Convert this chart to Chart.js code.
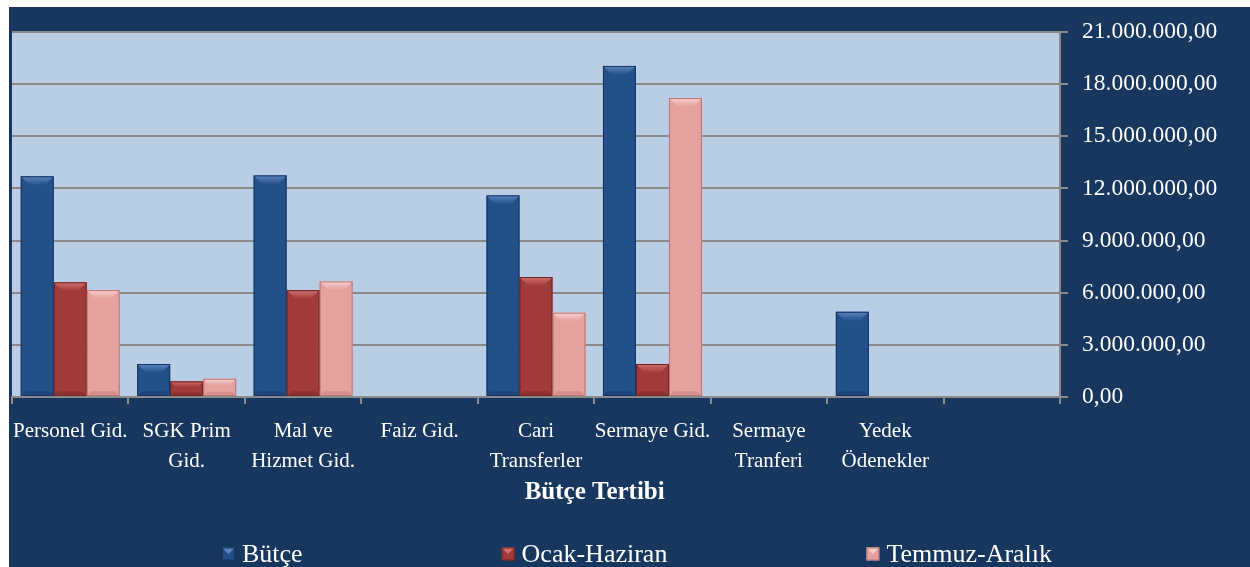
<!DOCTYPE html>
<html lang="tr">
<head>
<meta charset="utf-8">
<title>Bütçe Tertibi</title>
<script src="https://cdn.jsdelivr.net/npm/chart.js@4.4.1/dist/chart.umd.min.js"></script>
<style>
  html, body { margin: 0; padding: 0; background: #fff; }
  #kutu { position: absolute; left: 9px; top: 7px; width: 1241px; height: 560px; background: #17375e; overflow: hidden; }
</style>
</head>
<body>
<div id="kutu"><canvas id="grafik" width="1241" height="560"></canvas></div>
<script>
// Kategoriler (son sütun boş)
const kategoriler = [
  "Personel Gid.", ["SGK Prim", "Gid."], ["Mal ve", "Hizmet Gid."], "Faiz Gid.",
  ["Cari", "Transferler"], "Sermaye Gid.", ["Sermaye", "Tranferi"], ["Yedek", "Ödenekler"], ""
];
const seriAdlari = ["Bütçe", "Ocak-Haziran", "Temmuz-Aralık"];
const butce = [12700000, 1900000, 12750000, 0, 11600000, 19050000, 0, 4900000, 0];
const ocakHaziran = [6600000, 900000, 6150000, 0, 6900000, 1900000, 0, 0, 0];
const temmuzAralik = [6150000, 1050000, 6650000, 0, 4850000, 17200000, 0, 0, 0];
const yEksenUst = 21000000;
const yEksenAdim = 3000000;
const eksenBasligi = "Bütçe Tertibi";

// Renkler: ana, üst kabartma, kenar
const renkler = [
  { ana: "#24508a", ust: "#5b86c0", kenar: "#153460" },
  { ana: "#a03b3a", ust: "#d0706c", kenar: "#6e2221" },
  { ana: "#e5a09f", ust: "#f7cfcd", kenar: "#b87574" }
];

function paraBicimi(v) {
  const tam = Math.round(v).toString().replace(/\B(?=(\d{3})+(?!\d))/g, ".");
  return tam + ",00";
}

// Çizim alanı zemini
const cizimAlani = {
  id: "cizimAlani",
  beforeDraw(chart) {
    const { ctx, chartArea: a } = chart;
    ctx.save();
    ctx.fillStyle = "#b9cde5";
    ctx.fillRect(a.left, a.top, a.right - a.left, a.bottom - a.top);
    ctx.restore();
  }
};

// Çubuklara kabartma görünümü
const kabartma = {
  id: "kabartma",
  afterDatasetsDraw(chart) {
    const ctx = chart.ctx;
    chart.data.datasets.forEach((ds, i) => {
      const r = renkler[i];
      chart.getDatasetMeta(i).data.forEach(bar => {
        const { x, y, base, width } = bar.getProps(["x", "y", "base", "width"], true);
        const h = base - y;
        if (h < 1) return;
        const sol = x - width / 2, sag = x + width / 2;
        const d = Math.min(9, h / 2.5);
        ctx.save();
        // üst eğim
        const g = ctx.createLinearGradient(0, y, 0, y + d);
        g.addColorStop(0, r.ust);
        g.addColorStop(1, r.ana);
        ctx.fillStyle = g;
        ctx.beginPath();
        ctx.moveTo(sol, y); ctx.lineTo(sag, y);
        ctx.lineTo(sag - d, y + d); ctx.lineTo(sol + d, y + d);
        ctx.closePath(); ctx.fill();
        // alt gölge
        ctx.globalAlpha = 0.35;
        ctx.fillStyle = r.kenar;
        const da = Math.min(5, h / 4);
        ctx.beginPath();
        ctx.moveTo(sol, base); ctx.lineTo(sag, base);
        ctx.lineTo(sag - da, base - da); ctx.lineTo(sol + da, base - da);
        ctx.closePath(); ctx.fill();
        ctx.globalAlpha = 1;
        // kenar çizgisi
        ctx.strokeStyle = r.kenar;
        ctx.lineWidth = 1;
        ctx.strokeRect(sol + 0.5, y + 0.5, width - 1, h - 1);
        ctx.restore();
      });
    });
  }
};

// Eksen başlığı ve gösterge
const baslikVeGosterge = {
  id: "baslikVeGosterge",
  afterDraw(chart) {
    const { ctx, chartArea: a } = chart;
    ctx.save();
    ctx.fillStyle = "#ffffff";
    ctx.textBaseline = "middle";
    ctx.textAlign = "center";
    ctx.font = "bold 25px 'Liberation Serif'";
    ctx.fillText(eksenBasligi, a.left + (a.right - a.left) * 0.556, 486);

    // gösterge
    ctx.font = "26px 'Liberation Serif'";
    ctx.textAlign = "left";
    const kutu = 13, bosluk = 7, ara = 199;
    const genislikler = seriAdlari.map(t => kutu + bosluk + ctx.measureText(t).width);
    const toplam = genislikler.reduce((s, w) => s + w, 0) + ara * (seriAdlari.length - 1);
    let xx = 628 - toplam / 2;
    const yy = 547;
    seriAdlari.forEach((ad, i) => {
      const r = renkler[i];
      ctx.fillStyle = r.ana;
      ctx.fillRect(xx, yy - kutu / 2, kutu, kutu);
      ctx.fillStyle = r.ust;
      ctx.beginPath();
      ctx.moveTo(xx, yy - kutu / 2); ctx.lineTo(xx + kutu, yy - kutu / 2);
      ctx.lineTo(xx + kutu / 2, yy); ctx.closePath(); ctx.fill();
      ctx.strokeStyle = r.kenar;
      ctx.strokeRect(xx + 0.5, yy - kutu / 2 + 0.5, kutu - 1, kutu - 1);
      ctx.fillStyle = "#ffffff";
      ctx.fillText(ad, xx + kutu + bosluk, yy + 1);
      xx += genislikler[i] + ara;
    });
    ctx.restore();
  }
};

const veriKumeleri = [butce, ocakHaziran, temmuzAralik].map((veri, i) => ({
  label: seriAdlari[i],
  data: veri,
  backgroundColor: renkler[i].ana,
  borderWidth: 0
}));

new Chart(document.getElementById("grafik"), {
  type: "bar",
  data: { labels: kategoriler, datasets: veriKumeleri },
  plugins: [cizimAlani, kabartma, baslikVeGosterge],
  options: {
    responsive: false,
    devicePixelRatio: 1,
    animation: false,
    layout: { padding: { left: 3, top: 25, right: 0, bottom: 0 } },
    datasets: { bar: { categoryPercentage: 0.85, barPercentage: 1 } },
    plugins: {
      legend: { display: false },
      tooltip: { enabled: false }
    },
    scales: {
      x: {
        grid: { offset: true, drawOnChartArea: false, tickLength: 7, color: "#8a8a8a", lineWidth: 2 },
        border: { color: "#8a8a8a", width: 2 },
        ticks: {
          color: "#ffffff",
          font: { family: "'Liberation Serif'", size: 21, lineHeight: 1.4 },
          padding: 13,
          maxRotation: 0,
          autoSkip: false
        },
        afterFit(s) { s.height = 170; s.paddingLeft = 0; s.paddingRight = 0; }
      },
      y: {
        position: "right",
        min: 0,
        max: yEksenUst,
        grid: { color: "#8a8a8a", lineWidth: 2, tickLength: 8 },
        border: { color: "#8a8a8a", width: 2 },
        ticks: {
          stepSize: yEksenAdim,
          color: "#ffffff",
          font: { family: "'Liberation Serif'", size: 23.5 },
          padding: 14,
          callback: v => paraBicimi(v)
        },
        afterFit(s) { s.width = 190; s.paddingTop = 0; s.paddingBottom = 0; }
      }
    }
  }
});
</script>
</body>
</html>
